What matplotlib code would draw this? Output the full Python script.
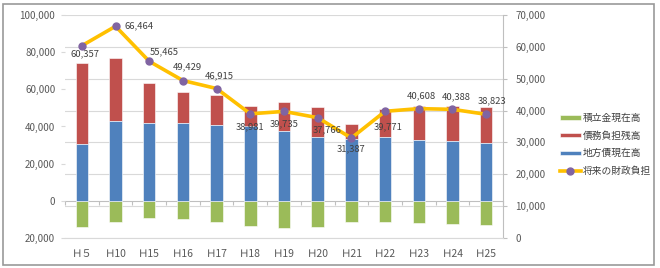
import matplotlib
matplotlib.use("Agg")
import matplotlib.pyplot as plt
import numpy as np
from matplotlib.ticker import FuncFormatter, MultipleLocator
from matplotlib.patches import Rectangle

plt.rcParams['font.family'] = ['Noto Sans CJK JP', 'DejaVu Sans']

categories = ["Ｈ５", "Ｈ10", "Ｈ15", "Ｈ16", "Ｈ17", "Ｈ18", "Ｈ19", "Ｈ20", "Ｈ21", "Ｈ22", "Ｈ23", "Ｈ24", "Ｈ25"]
chihousai = [30500, 43000, 42000, 42000, 41000, 40000, 37500, 34500, 33500, 34200, 33000, 32000, 31200]
saimu = [43500, 34000, 21200, 16300, 15800, 11300, 15600, 16100, 7800, 15300, 18200, 19200, 19400]
tsumitate = [-14000, -11500, -9200, -9700, -11200, -13600, -14500, -14000, -11500, -11500, -12000, -12200, -12800]
shourai = [60357, 66464, 55465, 49429, 46915, 38981, 39735, 37766, 31387, 39771, 40608, 40388, 38823]
line_labels = ["60,357", "66,464", "55,465", "49,429", "46,915", "38,981", "39,735", "37,766",
               "31,387", "39,771", "40,608", "40,388", "38,823"]
# label offsets in points (style)
label_offsets = [(2, -6), (17, 0), (11, 7), (3, 10), (2, 9), (0, -9), (0, -9), (7, -9),
                 (0, -8), (2, -11), (1.5, 9), (2.5, 9), (4.5, 9.5)]

GREEN = "#9BBB59"
RED = "#C0504D"
BLUE = "#4F81BD"
GOLD = "#FFC000"
PURPLE = "#8064A2"
TXT = "#595959"
GRID = "#D9D9D9"

fig = plt.figure(figsize=(6.6, 2.68), dpi=100)
pos = [65 / 660, 30 / 268, (503 - 65) / 660, (238 - 15) / 268]

# right-scale axes: gridlines and right tick labels (bottom layer)
ax_r = fig.add_axes(pos)
ax_r.set_ylim(0, 70000)
ax_r.yaxis.set_major_locator(MultipleLocator(10000))
ax_r.yaxis.tick_right()
ax_r.yaxis.set_major_formatter(FuncFormatter(lambda v, p: f"{int(v):,}"))
ax_r.grid(axis='y', color=GRID, lw=0.8)
ax_r.set_xticks([])
for s in ['top', 'left']:
    ax_r.spines[s].set_visible(False)
ax_r.spines['bottom'].set_color(GRID)
ax_r.spines['right'].set_color("#BFBFBF")
ax_r.tick_params(axis='y', colors=TXT, labelsize=7, length=3, color="#BFBFBF", pad=6)

x = np.arange(len(categories))

# left-scale axes: bars
ax_l = fig.add_axes(pos)
ax_l.patch.set_visible(False)
ax_l.set_ylim(-20000, 100000)
ax_l.set_xlim(-0.5, len(categories) - 0.5)
ax_r.set_xlim(-0.5, len(categories) - 0.5)
w = 0.37
b_green = ax_l.bar(x, tsumitate, w, color=GREEN, label="積立金現在高", edgecolor='white', linewidth=0.4)
b_red = ax_l.bar(x, saimu, w, bottom=chihousai, color=RED, label="債務負担残高", edgecolor='white', linewidth=0.4)
b_blue = ax_l.bar(x, chihousai, w, color=BLUE, label="地方債現在高", edgecolor='white', linewidth=0.4)
ax_l.yaxis.set_major_locator(MultipleLocator(20000))
ax_l.yaxis.set_major_formatter(FuncFormatter(lambda v, p: f"{abs(int(v)):,}"))
ax_l.set_xticks(x)
ax_l.set_xticklabels(categories)
ax_l.tick_params(axis='x', length=0, colors=TXT, labelsize=7.5, pad=8)
ax_l.tick_params(axis='y', colors=TXT, labelsize=7, length=3, color="#D9D9D9", pad=4)
for s in ['top', 'right', 'bottom', 'left']:
    ax_l.spines[s].set_visible(False)

# zero line of the left axis with small tick marks between categories
sec = ax_l.secondary_xaxis(20000 / 120000)
sec.set_xticks(np.arange(len(categories) + 1) - 0.5)
sec.set_xticklabels([])
sec.tick_params(axis='x', direction='out', length=3, color="#BFBFBF")
sec.spines['bottom'].set_color("#BFBFBF")
sec.spines['bottom'].set_linewidth(0.8)

# line axes (top layer)
ax_ln = fig.add_axes(pos)
ax_ln.patch.set_visible(False)
ax_ln.set_ylim(0, 70000)
ax_ln.set_xlim(-0.5, len(categories) - 0.5)
ax_ln.axis('off')
ln, = ax_ln.plot(x, shourai, color=GOLD, lw=2.6, marker='o', markersize=5,
                 markerfacecolor=PURPLE, markeredgecolor=PURPLE, label="将来の財政負担", zorder=5)
for xi, yi, lab, (dx, dy) in zip(x, shourai, line_labels, label_offsets):
    ax_ln.annotate(lab, (xi, yi), xytext=(dx, dy), textcoords='offset points',
                   ha='center', va='center', fontsize=6.8, color="#404040", zorder=6)

handles = [b_green, b_red, b_blue, ln]
fig.legend(handles, [h.get_label() for h in handles], loc='upper left',
           bbox_to_anchor=(551 / 660, 1 - 104 / 268), frameon=False, fontsize=7,
           handlelength=2.2, handleheight=0.35, labelspacing=0.8, handletextpad=0.2,
           labelcolor="#404040")

fig.patches.append(Rectangle((3 / 660, 3 / 268), 651 / 660, 261 / 268, transform=fig.transFigure,
                             fill=False, edgecolor="#999999", lw=1.2))

fig.savefig("out.png", dpi=100)
